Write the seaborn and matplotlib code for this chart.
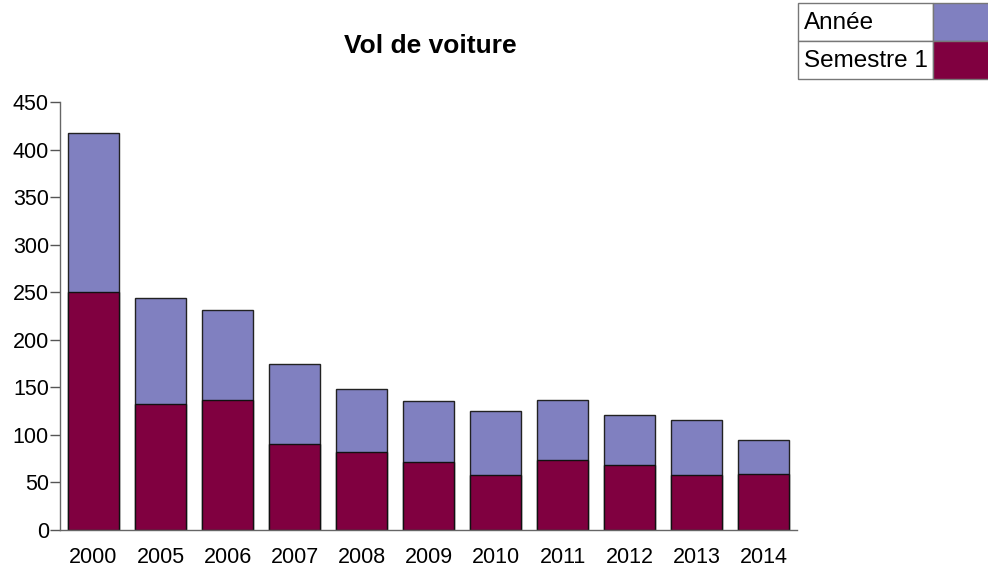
import numpy as np
import pandas as pd
import matplotlib
matplotlib.use("Agg")
import matplotlib.pyplot as plt
from matplotlib.patches import Rectangle
import seaborn as sns

# ── DATA ────────────────────────────────────────────────────────────
years = ["2000", "2005", "2006", "2007", "2008", "2009",
         "2010", "2011", "2012", "2013", "2014"]
annee = [417, 244, 231, 175, 148, 136, 125, 137, 121, 116, 95]
semestre1 = [250, 132, 137, 90, 82, 72, 58, 74, 68, 58, 59]
series_names = ["Année", "Semestre 1"]
series_colors = ["#8080c0", "#800040"]

df = pd.DataFrame({"year": years, "annee": annee, "sem1": semestre1})

# ── PLOT ────────────────────────────────────────────────────────────
sns.set_style("white")
plt.rcParams['font.family'] = ['Liberation Sans', 'DejaVu Sans']
plt.rcParams['text.color'] = 'black'
plt.rcParams['xtick.labelcolor'] = 'black'
plt.rcParams['ytick.labelcolor'] = 'black'

W, H = 988, 570
fig = plt.figure(figsize=(W / 100, H / 100), dpi=100)
ax = fig.add_axes([60 / W, 1 - 530 / H, (797 - 60) / W, (530 - 102) / H])

sns.barplot(data=df, x="year", y="annee", color=series_colors[0],
            saturation=1, width=0.77, edgecolor="#222222", linewidth=1, ax=ax)
sns.barplot(data=df, x="year", y="sem1", color=series_colors[1],
            saturation=1, width=0.77, edgecolor="#111111", linewidth=1, ax=ax)

ax.set_xlim(-0.5, len(years) - 0.5)
ax.set_ylim(0, 450)
ax.set_yticks(np.arange(0, 451, 50))
ax.set_xlabel("")
ax.set_ylabel("")

# x ticks at category boundaries, labels at centers
ax.set_xticks(np.arange(len(years)))
ax.set_xticklabels(years)
ax.tick_params(axis="x", which="major", length=0, pad=12, labelsize=15.5,
               labelcolor="black")
ax.set_xticks(np.arange(-0.5, len(years)), minor=True)
ax.tick_params(axis="x", which="minor", length=10, width=1, color="#555555",
               direction="out")
ax.tick_params(axis="y", length=7, width=1, color="#555555", direction="out",
               pad=1, labelsize=15.5, left=True, labelcolor="black")

sns.despine(ax=ax)
for s in ["left", "bottom"]:
    ax.spines[s].set_color("#666666")
    ax.spines[s].set_linewidth(1)

fig.text(430 / W, 1 - 46 / H, "Vol de voiture", ha="center", va="center",
         fontsize=19, fontweight="bold", color="black")

# legend drawn as a small table box top right
rows = [(3, 41), (41, 79)]
x0, xmid, x1 = 798, 933, 995
for (ya, yb), name, col in zip(rows, series_names, series_colors):
    fig.patches.append(Rectangle((x0 / W, 1 - yb / H), (xmid - x0) / W,
                                 (yb - ya) / H, transform=fig.transFigure,
                                 facecolor="white", edgecolor="#777777", lw=1))
    fig.patches.append(Rectangle((xmid / W, 1 - yb / H), (x1 - xmid) / W,
                                 (yb - ya) / H, transform=fig.transFigure,
                                 facecolor=col, edgecolor="#777777", lw=1))
    fig.text((x0 + 6) / W, 1 - (ya + yb + 2) / 2 / H, name, ha="left",
             va="center", fontsize=17.5, color="black")

fig.savefig("out.png", dpi=100)
